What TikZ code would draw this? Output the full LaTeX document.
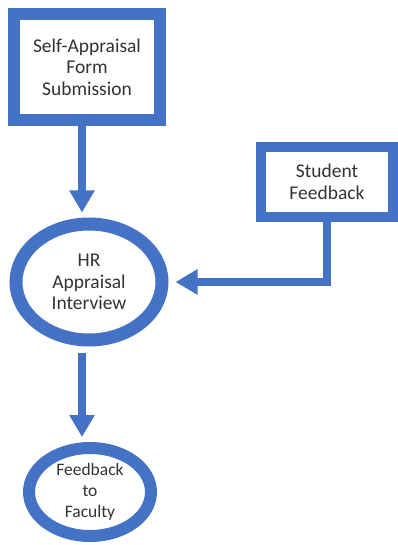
\documentclass[tikz,border=0pt]{standalone}
\usepackage{fontspec}
\setmainfont{Carlito}
\usetikzlibrary{arrows.meta,shapes.geometric}
\definecolor{obl}{RGB}{68,114,196}
\begin{document}
\begin{tikzpicture}[x=1pt,y=-1pt,
  lbl/.style={align=center,text=black!80,font=\fontsize{19.5}{21.5}\selectfont,inner sep=0pt},
  smalltext/.style={font=\fontsize{17.5}{21}\selectfont},
  boxa/.style={lbl,draw=obl,rectangle,fill=white},
  ovl/.style={lbl,draw=obl,ellipse,fill=white},
  conn/.style={draw=obl,line width=8pt,line join=miter,-{Triangle[width=24pt,length=22pt]}}]
\useasboundingbox (0,0) rectangle (398,545);
\node[boxa,line width=12pt,minimum width=146pt,minimum height=106pt] (b1) at (87,67) {Self-Appraisal\\Form\\Submission};
\node[boxa,line width=10pt,minimum width=132pt,minimum height=70pt] (b2) at (327,182) {Student\\Feedback};
\node[ovl,line width=13pt,minimum width=146pt,minimum height=116pt] (e1) at (89,282) {HR\\Appraisal\\Interview};
\node[ovl,smalltext,line width=12pt,minimum width=122pt,minimum height=88pt] (e2) at (90,492) {Feedback\\to\\Faculty};
\draw[conn] ([xshift=-5pt,yshift=6pt]b1.south) -- ([xshift=-7pt,yshift=5pt]e1.north);
\draw[conn] ([yshift=5pt]b2.south) |- ([xshift=7pt]e1.east);
\draw[conn] ([xshift=-7pt,yshift=-6pt]e1.south) -- ([xshift=-8pt,yshift=5pt]e2.north);
\end{tikzpicture}
\end{document}
